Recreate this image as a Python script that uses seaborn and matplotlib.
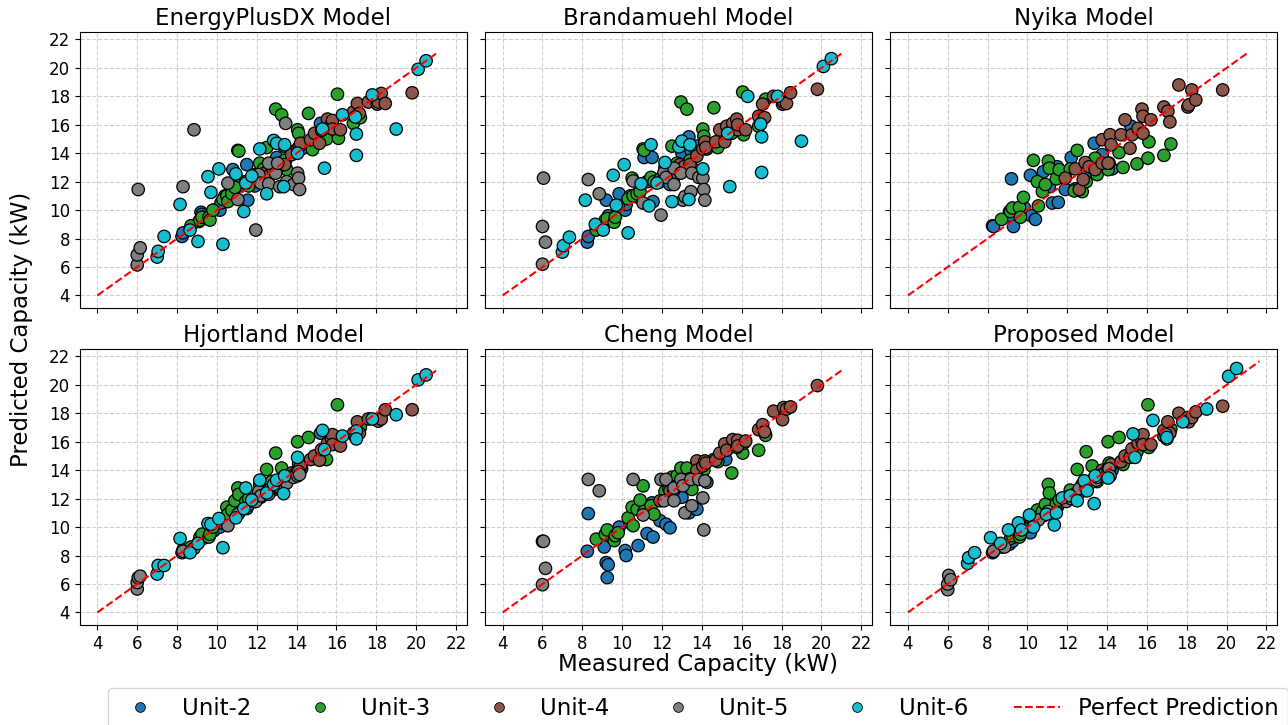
import pandas as pd
import seaborn as sns
import matplotlib.pyplot as plt
from matplotlib.lines import Line2D

# --- Units, colours and panel titles ---
units = ["Unit-2", "Unit-3", "Unit-4", "Unit-5", "Unit-6"]
unit_colors = ["#1f77b4", "#2ca02c", "#8c564b", "#7f7f7f", "#17becf"]
models = ["EnergyPlusDX Model", "Brandamuehl Model", "Nyika Model",
          "Hjortland Model", "Cheng Model", "Proposed Model"]
line_end = [21.0, 21.0, 21.0, 21.0, 21.0, 21.65]
ticks = [4, 6, 8, 10, 12, 14, 16, 18, 20, 22]

# --- Measured capacity (kW) for each unit ---
meas_u2 = [8.25, 8.3, 9.1, 9.2, 9.25, 9.3, 9.85, 10.15, 10.2, 10.4, 10.8, 11.1,
           11.25, 11.5, 11.55, 11.9, 12.2, 12.4, 13.0, 13.35, 13.45, 13.75, 14.25, 15.2]
meas_u3 = [8.7, 9.15, 9.25, 9.6, 9.65, 9.8, 10.3, 10.5, 10.55, 10.75, 10.9, 11.05,
           11.1, 11.45, 11.6, 12.15, 12.35, 12.5, 12.75, 12.95, 13.25, 13.4, 13.5,
           14.05, 14.1, 14.6, 14.8, 15.5, 16.05, 16.1, 16.85, 17.2]
meas_u4 = [11.9, 12.4, 12.6, 12.8, 12.9, 13.1, 13.4, 13.75, 13.75, 14.05, 14.15, 14.2,
           14.7, 14.9, 15.15, 15.25, 15.55, 15.75, 15.8, 15.8, 16.2, 16.85, 17.05,
           17.15, 17.6, 18.05, 18.1, 18.25, 18.45, 19.8]
meas_u5 = [6.0, 6.0, 6.05, 6.15, 8.3, 8.85, 10.55, 11.05, 11.95, 12.1, 12.2, 12.6,
           12.6, 12.95, 13.05, 13.15, 13.45, 13.5, 13.85, 14.05, 14.1, 14.15]
meas_u6 = [7.0, 7.05, 7.35, 8.15, 8.65, 9.05, 9.55, 9.7, 10.1, 10.3, 10.95, 11.35,
           11.45, 11.75, 12.15, 12.5, 12.85, 13.0, 13.35, 13.4, 14.05, 15.3, 15.4,
           16.3, 16.95, 17.0, 17.0, 17.8, 19.0, 20.1, 20.5]

# --- Predicted capacity (kW): EnergyPlusDX ---
eplus_u2 = [8.15, 8.4, 9.2, 9.85, 9.7, 9.5, 10.0, 10.0, 10.5, 11.0, 12.85, 11.7,
            12.0, 13.2, 10.7, 11.7, 12.3, 12.5, 13.7, 14.5, 13.5, 14.0, 14.3, 16.1]
eplus_u3 = [8.9, 9.3, 9.5, 9.5, 9.3, 10.0, 10.75, 11.0, 10.6, 11.15, 11.6, 14.2,
            14.15, 12.0, 11.7, 13.3, 12.9, 14.4, 13.0, 17.1, 16.7, 13.5, 12.85,
            15.65, 15.4, 16.8, 14.25, 15.0, 18.15, 15.05, 16.1, 16.5]
eplus_u4 = [12.5, 12.6, 12.4, 12.9, 13.2, 13.05, 13.2, 14.1, 13.9, 14.3, 14.5, 14.7,
            14.95, 15.4, 14.7, 15.6, 16.4, 16.0, 16.3, 15.7, 15.65, 16.9, 17.5,
            16.8, 17.6, 17.45, 17.6, 18.2, 17.5, 18.25]
eplus_u5 = [6.15, 6.85, 11.45, 7.35, 11.65, 15.65, 11.9, 10.75, 8.6, 12.5, 11.9, 13.3,
            11.85, 12.6, 13.3, 11.65, 16.1, 12.0, 11.8, 12.6, 12.25, 11.45]
eplus_u6 = [6.7, 7.1, 8.15, 10.4, 8.6, 7.8, 12.35, 11.25, 12.9, 7.6, 12.55, 9.9,
            11.9, 12.4, 14.3, 11.15, 14.9, 14.7, 11.65, 14.6, 14.0, 15.7, 12.95,
            16.7, 16.55, 15.35, 13.85, 18.1, 15.7, 19.9, 20.5]

# --- Predicted capacity (kW): Brandamuehl ---
brand_u2 = [7.75, 8.15, 9.0, 10.7, 9.4, 9.6, 11.15, 10.0, 10.4, 11.0, 10.9, 13.7,
            12.0, 13.7, 10.6, 12.0, 12.3, 11.8, 14.0, 15.15, 14.2, 14.5, 14.3, 15.8]
brand_u3 = [8.6, 9.3, 9.4, 9.15, 9.5, 10.3, 10.8, 12.25, 11.0, 11.15, 11.3, 14.3,
            14.2, 12.3, 12.0, 13.0, 12.9, 14.5, 13.3, 17.6, 17.1, 13.5, 13.0,
            15.7, 15.2, 17.2, 14.4, 15.4, 18.3, 15.3, 15.9, 17.8]
brand_u4 = [12.2, 12.5, 12.3, 12.9, 13.2, 13.05, 13.2, 14.1, 13.8, 14.3, 14.8, 14.4,
            14.8, 15.65, 14.8, 15.9, 16.1, 16.4, 15.65, 16.0, 15.65, 16.6, 17.45,
            16.5, 18.0, 17.45, 17.6, 17.5, 18.25, 18.5]
brand_u5 = [6.2, 8.85, 12.25, 7.75, 12.15, 11.15, 12.05, 10.5, 9.65, 12.65, 12.3, 11.8,
            12.95, 12.6, 10.7, 10.95, 11.3, 12.6, 12.3, 12.25, 11.45, 10.7]
brand_u6 = [7.05, 7.5, 8.1, 10.7, 9.0, 8.6, 12.45, 10.35, 13.2, 8.4, 11.85, 10.3,
            14.6, 11.9, 13.35, 10.6, 14.45, 14.85, 10.75, 14.6, 12.9, 15.4, 11.65,
            18.0, 16.05, 15.15, 12.65, 18.0, 14.85, 20.1, 20.65]

# --- Predicted capacity (kW): Nyika (units 2-4 only) ---
nyika_u2 = [8.9, 8.85, 9.9, 12.2, 9.5, 8.85, 10.15, 12.45, 9.6, 9.35, 12.7, 11.65,
            10.5, 13.05, 10.55, 11.45, 13.7, 11.5, 12.5, 14.7, 13.4, 13.9, 12.9, 15.9]
nyika_u3 = [9.35, 9.9, 10.15, 10.2, 9.5, 10.9, 13.5, 12.0, 10.3, 11.3, 11.8, 13.45,
            12.95, 12.2, 12.85, 12.9, 11.35, 14.2, 11.3, 12.0, 13.0, 13.65, 12.5,
            12.85, 13.3, 14.05, 13.0, 13.25, 13.65, 14.8, 13.85, 14.65]
nyika_u4 = [12.25, 12.9, 11.45, 12.15, 13.35, 13.05, 12.85, 14.95, 13.3, 13.3, 15.3,
            14.6, 15.3, 16.35, 14.35, 15.3, 15.75, 17.1, 16.6, 15.4, 16.35, 17.25,
            16.95, 16.2, 18.8, 17.25, 17.4, 18.45, 17.75, 18.45]

# --- Predicted capacity (kW): Hjortland ---
hjort_u2 = [8.2, 8.4, 9.0, 9.2, 9.3, 9.2, 9.75, 10.0, 10.3, 10.4, 10.9, 11.0,
            11.3, 11.3, 11.5, 11.8, 12.1, 12.3, 12.9, 13.2, 13.5, 13.7, 14.1, 16.6]
hjort_u3 = [8.6, 9.3, 9.5, 9.3, 9.5, 10.0, 10.6, 11.4, 10.9, 11.2, 11.85, 12.75,
            12.3, 11.8, 12.0, 13.0, 12.6, 14.05, 13.2, 15.2, 14.15, 13.6, 13.4,
            16.0, 14.5, 16.3, 14.8, 14.75, 18.6, 15.8, 16.5, 17.0]
hjort_u4 = [11.9, 12.3, 12.5, 12.6, 12.8, 13.0, 13.2, 13.8, 13.6, 14.0, 14.1, 14.3,
            14.75, 15.0, 14.7, 15.45, 15.9, 16.2, 16.5, 15.8, 15.7, 16.6, 17.4,
            16.6, 17.6, 17.55, 17.45, 17.6, 18.25, 18.25]
hjort_u5 = [5.65, 6.1, 6.45, 6.55, 8.3, 8.5, 10.1, 10.9, 11.8, 12.5, 12.2, 12.3,
            12.6, 12.9, 13.0, 12.8, 13.3, 13.1, 13.5, 13.6, 13.9, 13.7]
hjort_u6 = [6.7, 7.3, 7.3, 9.2, 8.2, 8.85, 10.25, 10.2, 10.6, 8.55, 10.65, 11.3,
            12.75, 11.9, 13.3, 12.4, 13.0, 13.3, 12.35, 13.6, 14.9, 16.8, 15.45,
            16.4, 16.4, 16.75, 16.2, 17.6, 17.9, 20.35, 20.7]

# --- Predicted capacity (kW): Cheng (no Unit-6) ---
cheng_u2 = [8.3, 10.95, 8.6, 7.5, 6.45, 7.35, 10.0, 8.35, 8.0, 10.3, 8.7, 11.0,
            9.55, 11.7, 9.3, 10.45, 10.2, 9.95, 12.1, 11.0, 12.8, 11.25, 13.15, 14.75]
cheng_u3 = [9.15, 9.5, 9.8, 9.05, 9.4, 9.6, 10.65, 11.4, 10.1, 11.25, 11.9, 12.9,
            11.1, 11.5, 10.9, 12.5, 12.7, 13.5, 13.6, 14.15, 14.15, 13.2, 12.65,
            14.5, 14.0, 14.75, 14.6, 13.8, 15.2, 15.9, 15.4, 16.45]
cheng_u4 = [11.85, 12.55, 12.6, 12.9, 13.0, 13.2, 13.4, 14.65, 14.0, 14.3, 14.65, 14.5,
            14.7, 15.2, 15.85, 15.4, 16.15, 15.6, 16.1, 15.7, 16.05, 16.85, 17.2,
            16.7, 18.15, 17.55, 18.4, 18.3, 18.45, 19.95]
cheng_u5 = [5.95, 9.0, 9.0, 7.1, 13.35, 12.55, 13.35, 10.85, 13.35, 11.85, 13.35, 11.85,
            12.75, 13.35, 12.9, 11.0, 13.35, 11.5, 13.35, 12.05, 9.8, 13.25]

# --- Predicted capacity (kW): Proposed ---
prop_u2 = [8.2, 8.3, 8.8, 9.1, 9.0, 9.3, 9.8, 9.6, 10.3, 10.4, 10.8, 11.2,
           11.3, 11.4, 11.6, 11.9, 12.2, 12.4, 13.0, 13.4, 13.4, 13.8, 14.0, 15.1]
prop_u3 = [8.6, 9.2, 9.4, 9.3, 9.5, 9.9, 10.5, 11.2, 10.7, 11.1, 11.6, 13.0,
           12.4, 11.6, 11.9, 12.6, 12.3, 14.05, 13.0, 15.3, 14.3, 13.5, 13.2,
           16.0, 14.5, 16.3, 14.4, 15.3, 18.6, 15.6, 16.4, 16.9]
prop_u4 = [12.0, 12.3, 12.5, 12.8, 13.0, 13.1, 13.4, 14.0, 13.7, 14.1, 14.2, 14.4,
           14.6, 15.0, 14.9, 15.5, 15.9, 16.1, 16.5, 15.8, 15.8, 16.8, 17.4,
           16.6, 18.0, 17.7, 17.4, 17.7, 18.1, 18.5]
prop_u5 = [5.6, 6.0, 6.6, 6.3, 8.3, 8.6, 10.5, 11.1, 11.8, 12.1, 12.0, 12.4,
           12.7, 12.8, 13.2, 13.1, 13.3, 13.5, 13.7, 13.9, 14.1, 13.6]
prop_u6 = [7.45, 7.85, 8.2, 9.25, 8.85, 9.8, 10.3, 9.8, 10.85, 10.0, 10.9, 10.15,
           11.0, 12.05, 12.2, 11.85, 13.25, 12.55, 11.65, 13.6, 13.45, 16.55, 14.9,
           17.5, 16.5, 16.2, 16.3, 17.4, 18.3, 20.6, 21.15]

measured = dict(zip(units, [meas_u2, meas_u3, meas_u4, meas_u5, meas_u6]))
predicted = {
    "EnergyPlusDX Model": [eplus_u2, eplus_u3, eplus_u4, eplus_u5, eplus_u6],
    "Brandamuehl Model": [brand_u2, brand_u3, brand_u4, brand_u5, brand_u6],
    "Nyika Model": [nyika_u2, nyika_u3, nyika_u4, None, None],
    "Hjortland Model": [hjort_u2, hjort_u3, hjort_u4, hjort_u5, hjort_u6],
    "Cheng Model": [cheng_u2, cheng_u3, cheng_u4, cheng_u5, None],
    "Proposed Model": [prop_u2, prop_u3, prop_u4, prop_u5, prop_u6],
}
palette = dict(zip(units, unit_colors))

# --- Plot ---
fig, axes = plt.subplots(2, 3, figsize=(12.88, 7.25), dpi=100, sharex=True, sharey=True)
fig.subplots_adjust(left=0.062, right=0.9915, top=0.956, bottom=0.138,
                    wspace=0.048, hspace=0.148)

for ax, model, end in zip(axes.flat, models, line_end):
    frames = []
    for unit, pred in zip(units, predicted[model]):
        if pred is None:
            continue
        frames.append(pd.DataFrame({"Measured": measured[unit], "Predicted": pred, "Unit": unit}))
    df = pd.concat(frames, ignore_index=True)

    ax.set_axisbelow(True)
    ax.grid(True, linestyle="--", alpha=0.6)
    sns.scatterplot(data=df, x="Measured", y="Predicted", hue="Unit",
                    palette=palette, s=80, edgecolor="black", linewidth=0.9,
                    legend=False, ax=ax)
    ax.plot([4, end], [4, end], color="red", linestyle="--", linewidth=1.5, zorder=3)

    ax.set_title(model, fontsize=16.5, pad=5)
    ax.set_xlim(3.12, 22.53)
    ax.set_ylim(3.12, 22.53)
    ax.set_xticks(ticks)
    ax.set_yticks(ticks)
    ax.tick_params(labelsize=12)
    ax.set_xlabel("")
    ax.set_ylabel("")

fig.text(0.542, 0.083, "Measured Capacity (kW)", ha="center", va="center", fontsize=16.5)
fig.text(0.017, 0.545, "Predicted Capacity (kW)", ha="center", va="center",
         rotation=90, fontsize=16.5)

handles = [Line2D([], [], marker="o", linestyle="", markersize=7,
                  markerfacecolor=c, markeredgecolor="black", markeredgewidth=0.6)
           for c in unit_colors]
handles.append(Line2D([], [], color="red", linestyle="--", linewidth=1.5))
labels = units + ["Perfect Prediction"]
fig.legend(handles, labels, loc="upper center", bbox_to_anchor=(0.542, 0.0675),
           ncol=6, fontsize=16.5)

fig.savefig("out.png", dpi=100)
